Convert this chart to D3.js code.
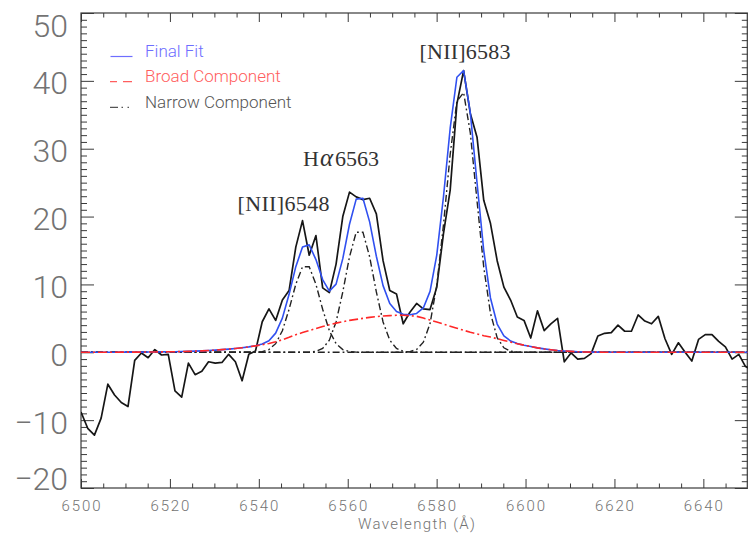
<!DOCTYPE html>
<html><head><meta charset="utf-8">
<script src="https://cdn.jsdelivr.net/npm/d3@7"></script>
<style>body{margin:0;background:#fff}svg{display:block}</style>
</head><body><svg id="c" width="748" height="537"></svg>
<script>
const wavelength = [
6500.00,6501.51,6503.02,6504.53,6506.04,6507.55,6509.06,6510.57,6512.08,6513.59,
6515.10,6516.61,6518.12,6519.63,6521.14,6522.65,6524.16,6525.67,6527.18,6528.69,
6530.20,6531.71,6533.22,6534.73,6536.24,6537.75,6539.26,6540.77,6542.28,6543.79,
6545.30,6546.81,6548.32,6549.83,6551.34,6552.85,6554.36,6555.87,6557.38,6558.89,
6560.40,6561.91,6563.42,6564.93,6566.44,6567.95,6569.46,6570.97,6572.48,6573.99,
6575.50,6577.01,6578.52,6580.03,6581.54,6583.05,6584.56,6586.07,6587.58,6589.09,
6590.60,6592.11,6593.62,6595.13,6596.64,6598.15,6599.66,6601.17,6602.68,6604.19,
6605.70,6607.21,6608.72,6610.23,6611.74,6613.25,6614.76,6616.27,6617.78,6619.29,
6620.80,6622.31,6623.82,6625.33,6626.84,6628.35,6629.86,6631.37,6632.88,6634.39,
6635.90,6637.41,6638.92,6640.43,6641.94,6643.45,6644.96,6646.47,6647.98,6649.49,
6651.00];

const observed = [
-8.8,-11.2,-12.2,-9.7,-4.7,-6.3,-7.4,-8.0,-1.2,-0.1,
-0.8,0.4,-0.4,-0.3,-5.7,-6.6,-1.6,-3.3,-2.8,-1.4,
-1.6,-1.5,-0.3,-1.4,-4.2,-0.3,0.2,4.5,6.4,4.7,
7.7,9.1,15.5,19.4,14.3,17.2,9.5,8.8,13.0,20.0,
23.6,22.9,22.5,22.7,20.4,13.5,9.1,8.6,4.2,5.9,
7.2,6.4,6.3,9.6,17.5,23.9,36.6,41.5,35.2,31.7,
22.4,19.0,13.5,9.6,7.7,5.2,4.7,2.1,6.1,3.2,
4.2,5.0,-1.4,-0.1,-1.0,-0.9,-0.2,2.4,2.8,2.9,
4.0,3.1,3.1,5.5,4.6,4.2,5.3,2.0,-0.3,1.4,
0.0,-1.3,1.9,2.6,2.6,1.6,0.8,-1.0,-0.3,-2.1,
-2.6];

const narrow6548 = [
0,0,0,0,0,0,0,0,0,0,
0,0,0,0,0,0,0,0,0,0,
0,0,0,0,0,0,0.02,0.10,0.40,1.27,
3.18,6.34,10.02,12.60,12.60,10.02,6.34,3.18,1.27,0.40,
0.10,0.02,0,0,0,0,0,0,0,0,
0,0,0,0,0,0,0,0,0,0,
0,0,0,0,0,0,0,0,0,0,
0,0,0,0,0,0,0,0,0,0,
0,0,0,0,0,0,0,0,0,0,
0,0,0,0,0,0,0,0,0,0,
0];

const narrowHa = [
0,0,0,0,0,0,0,0,0,0,
0,0,0,0,0,0,0,0,0,0,
0,0,0,0,0,0,0,0,0,0,
0,0,0,0,0.03,0.14,0.57,1.78,4.47,8.90,
14.07,17.70,17.70,14.07,8.90,4.47,1.78,0.57,0.14,0.03,
0,0,0,0,0,0,0,0,0,0,
0,0,0,0,0,0,0,0,0,0,
0,0,0,0,0,0,0,0,0,0,
0,0,0,0,0,0,0,0,0,0,
0,0,0,0,0,0,0,0,0,0,
0];

const narrow6583 = [
0,0,0,0,0,0,0,0,0,0,
0,0,0,0,0,0,0,0,0,0,
0,0,0,0,0,0,0,0,0,0,
0,0,0,0,0,0,0,0,0,0,
0,0,0,0,0,0,0,0,0.02,0.10,
0.42,1.48,4.23,9.87,18.77,29.17,36.98,38.27,32.33,22.29,
12.54,5.76,2.16,0.66,0.16,0.03,0,0,0,0,
0,0,0,0,0,0,0,0,0,0,
0,0,0,0,0,0,0,0,0,0,
0,0,0,0,0,0,0,0,0,0,
0];

const broad = [
0.00,0.00,0.01,0.01,0.01,0.01,0.02,0.02,0.03,0.03,
0.04,0.05,0.06,0.07,0.09,0.11,0.14,0.17,0.21,0.26,
0.32,0.39,0.47,0.56,0.67,0.80,0.95,1.12,1.30,1.55,
1.85,2.20,2.60,2.90,3.20,3.50,3.80,4.05,4.30,4.50,
4.70,4.85,5.00,5.15,5.25,5.35,5.40,5.45,5.45,5.40,
5.30,5.05,4.75,4.45,4.15,3.85,3.55,3.25,2.95,2.70,
2.45,2.25,2.00,1.75,1.50,1.25,1.05,0.85,0.65,0.50,
0.38,0.27,0.19,0.13,0.08,0.05,0.03,0.02,0.01,0.01,
0,0,0,0,0,0,0,0,0,0,
0,0,0,0,0,0,0,0,0,0,
0];

const finalFit = [
0.00,0.00,0.01,0.01,0.01,0.01,0.02,0.02,0.03,0.03,
0.04,0.05,0.06,0.07,0.09,0.11,0.14,0.17,0.21,0.26,
0.32,0.39,0.47,0.56,0.67,0.80,0.97,1.22,1.70,2.82,
5.03,8.54,12.62,15.50,15.83,13.66,10.71,9.01,10.04,13.80,
18.87,22.57,22.70,19.22,14.15,9.82,7.18,6.02,5.61,5.53,
5.72,6.53,8.98,14.32,22.92,33.02,40.53,41.52,35.28,24.99,
14.99,8.01,4.16,2.41,1.66,1.28,1.05,0.85,0.65,0.50,
0.38,0.27,0.19,0.13,0.08,0.05,0.03,0.02,0.01,0.01,
0,0,0,0,0,0,0,0,0,0,
0,0,0,0,0,0,0,0,0,0,
0];

const xTicks = [6500,6520,6540,6560,6580,6600,6620,6640];
const xMinorTicks = [6505,6510,6515,6525,6530,6535,6545,6550,6555,6565,6570,6575,6585,6590,6595,6605,6610,6615,6625,6630,6635,6645];
const yTicks = [-20,-10,0,10,20,30,40,50];
const xTitle = "Wavelength (Å)";
const legendLabels = ["Final Fit","Broad Component","Narrow Component"];
const lineLabels = ["[NII]6548", "Hα6563", "[NII]6583"];

const svg = d3.select("#c");
const X0 = 81, X1 = 747.8, Y0 = 488, Y1 = 13;
const x = d3.scaleLinear().domain([6500,6650]).range([X0,X1]);
const y = d3.scaleLinear().domain([-20,50]).range([Y0,Y1]);
const yMinor = d3.range(-20,51,1).filter(v => v % 10 !== 0);

svg.append("defs").append("clipPath").attr("id","clip")
  .append("rect").attr("x",X0).attr("y",Y1).attr("width",X1-X0).attr("height",Y0-Y1);

const axisColor = "#3a3a3a";
function styleAxis(g){
  g.select(".domain").remove();
  g.selectAll("line").attr("stroke",axisColor).attr("stroke-width",1);
  g.selectAll("text").remove();
}
svg.append("g").attr("transform",`translate(0,${Y0})`).call(d3.axisBottom(x).tickValues(xTicks).tickSize(-9).tickFormat("")).call(styleAxis);
svg.append("g").attr("transform",`translate(0,${Y0})`).call(d3.axisBottom(x).tickValues(xMinorTicks).tickSize(-4.5).tickFormat("")).call(styleAxis);
svg.append("g").attr("transform",`translate(0,${Y1})`).call(d3.axisTop(x).tickValues(xTicks).tickSize(-9).tickFormat("")).call(styleAxis);
svg.append("g").attr("transform",`translate(0,${Y1})`).call(d3.axisTop(x).tickValues(xMinorTicks).tickSize(-4.5).tickFormat("")).call(styleAxis);
svg.append("g").attr("transform",`translate(${X0},0)`).call(d3.axisLeft(y).tickValues(yTicks).tickSize(-13).tickFormat("")).call(styleAxis);
svg.append("g").attr("transform",`translate(${X0},0)`).call(d3.axisLeft(y).tickValues(yMinor).tickSize(-6).tickFormat("")).call(styleAxis);
svg.append("g").attr("transform",`translate(${X1},0)`).call(d3.axisRight(y).tickValues(yTicks).tickSize(-13).tickFormat("")).call(styleAxis);
svg.append("g").attr("transform",`translate(${X1},0)`).call(d3.axisRight(y).tickValues(yMinor).tickSize(-6).tickFormat("")).call(styleAxis);

svg.append("rect").attr("x",X0).attr("y",Y1).attr("width",X1-X0-0.5).attr("height",Y0-Y1)
  .attr("fill","none").attr("stroke",axisColor).attr("stroke-width",1.2);

const sansFont = "Roboto, 'DejaVu Sans', sans-serif";
svg.append("g").selectAll("text").data(yTicks).join("text")
  .attr("x",68)
  .attr("y",d => d === 50 ? 25 : d === -20 ? 478 : y(d) + 2)
  .attr("dy","0.36em")
  .attr("text-anchor","end")
  .attr("font-family",sansFont).attr("font-weight",300)
  .attr("font-size",32).attr("fill","#737373")
  .text(d => d < 0 ? "\u2212" + Math.abs(d) : d);

svg.append("g").selectAll("text").data(xTicks).join("text")
  .attr("x",d => x(d)).attr("y",510.5)
  .attr("text-anchor","middle")
  .attr("font-family",sansFont).attr("font-weight",300)
  .attr("font-size",15).attr("fill","#737373")
  .attr("textLength",39).attr("lengthAdjust","spacing")
  .text(d => d);

svg.append("text").attr("x",(X0+X1)/2+2).attr("y",529)
  .attr("text-anchor","middle")
  .attr("font-family",sansFont).attr("font-weight",300)
  .attr("font-size",15).attr("fill","#737373")
  .attr("textLength",117).attr("lengthAdjust","spacing")
  .text(xTitle);

const plot = svg.append("g").attr("clip-path","url(#clip)");
const mk = arr => d3.line().x((d,i) => x(wavelength[i])).y(d => y(d))(arr);

plot.append("path").attr("d",mk(observed)).attr("fill","none")
  .attr("stroke","#161616").attr("stroke-width",1.7).attr("stroke-linejoin","round");
[narrow6548, narrowHa, narrow6583].forEach(arr => {
  plot.append("path").attr("d",mk(arr)).attr("fill","none")
    .attr("stroke","#222").attr("stroke-width",1.4)
    .attr("stroke-dasharray","7,3,1.8,3");
});
plot.append("path").attr("d",mk(finalFit)).attr("fill","none")
  .attr("stroke","#3050f0").attr("stroke-width",1.6).attr("stroke-linejoin","round");
plot.append("path").attr("d",mk(broad)).attr("fill","none")
  .attr("stroke","#ff2828").attr("stroke-width",1.6)
  .attr("stroke-dasharray","9,3,2,3");

const legColors = ["#6e6eff","#ff5e5e","#555555"];
const legY = [57, 82.3, 107.8];
const leg = svg.append("g");
leg.append("line").attr("x1",110.5).attr("x2",132.5).attr("y1",56.5).attr("y2",56.5)
  .attr("stroke",legColors[0]).attr("stroke-width",1.2);
leg.append("line").attr("x1",110).attr("x2",132.5).attr("y1",81.7).attr("y2",81.7)
  .attr("stroke",legColors[1]).attr("stroke-width",1.2).attr("stroke-dasharray","7,6,9");
leg.append("line").attr("x1",110).attr("x2",130).attr("y1",107.3).attr("y2",107.3)
  .attr("stroke",legColors[2]).attr("stroke-width",1.2).attr("stroke-dasharray","8,3.5,1.5,4.5,1.5");
leg.selectAll("text").data(legendLabels).join("text")
  .attr("x",145).attr("y",(d,i) => legY[i])
  .attr("font-family",sansFont).attr("font-weight",300)
  .attr("font-size",17).attr("fill",(d,i) => legColors[i])
  .text(d => d);

const serif = "'Liberation Serif', 'Times New Roman', serif";
const annColor = "#333";
svg.append("text").attr("x",237.5).attr("y",210.8)
  .attr("font-family",serif).attr("font-size",22).attr("fill",annColor)
  .attr("textLength",92).attr("lengthAdjust","spacing").text(lineLabels[0]);
svg.append("text").attr("x",419.5).attr("y",59)
  .attr("font-family",serif).attr("font-size",22).attr("fill",annColor)
  .attr("textLength",91).attr("lengthAdjust","spacing").text(lineLabels[2]);
const ha = svg.append("text").attr("y",166)
  .attr("font-family",serif).attr("font-size",22).attr("fill",annColor);
ha.append("tspan").attr("x",303).text(lineLabels[1].slice(0,1));
ha.append("tspan").attr("x",320).attr("font-style","italic").attr("font-size",25).text(lineLabels[1].slice(1,2));
ha.append("tspan").attr("x",335).attr("font-size",22).text(lineLabels[1].slice(2));
</script>
</body></html>
